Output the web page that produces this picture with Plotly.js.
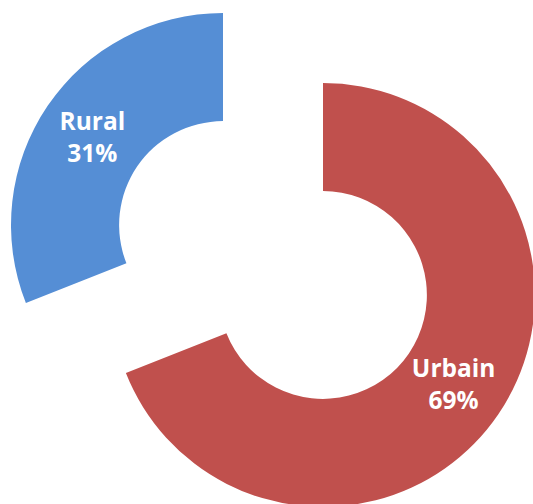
<!DOCTYPE html>
<html>
<head>
<meta charset="utf-8">
<script src="https://cdn.plot.ly/plotly-3.0.1.min.js"></script>
<style>
html,body{margin:0;padding:0;overflow:hidden;background:#fff;}
#chart{width:540px;height:510px;}
</style>
</head>
<body>
<div id="chart"></div>
<script>
const labels = ["Urbain", "Rural"];
const values = [69, 31];
const percentText = ["69%", "31%"];
const colors = ["#C0504D", "#558ED5"];

const W = 540, H = 510;
function dom(cx, cy, r) {
  return {x: [(cx - r) / W, (cx + r) / W], y: [1 - (cy + r) / H, 1 - (cy - r) / H]};
}

function sliceTrace(idx, d) {
  return {
    type: "pie",
    labels: labels,
    values: values,
    sort: false,
    direction: "clockwise",
    rotation: 0,
    hole: 0.49,
    domain: d,
    marker: {
      colors: labels.map((l, i) => i === idx ? colors[i] : "rgba(0,0,0,0)"),
      line: {width: 0}
    },
    text: labels.map((l, i) => i === idx ? l + "<br>" + percentText[i] : ""),
    textinfo: "text",
    textposition: "inside",
    insidetextorientation: "horizontal",
    insidetextfont: {family: "Open Sans, Lato, sans-serif", size: 24.5, color: "#ffffff", weight: "bold"},
    hoverinfo: "skip",
    showlegend: false
  };
}

const data = [
  sliceTrace(0, dom(323, 295, 212)),
  sliceTrace(1, dom(223, 225, 212))
];

Plotly.newPlot("chart", data, {
  width: W, height: H,
  margin: {l: 0, r: 0, t: 0, b: 0},
  paper_bgcolor: "#ffffff",
  showlegend: false,
  uniformtext: {mode: false}
}, {staticPlot: true});
</script>
</body>
</html>
